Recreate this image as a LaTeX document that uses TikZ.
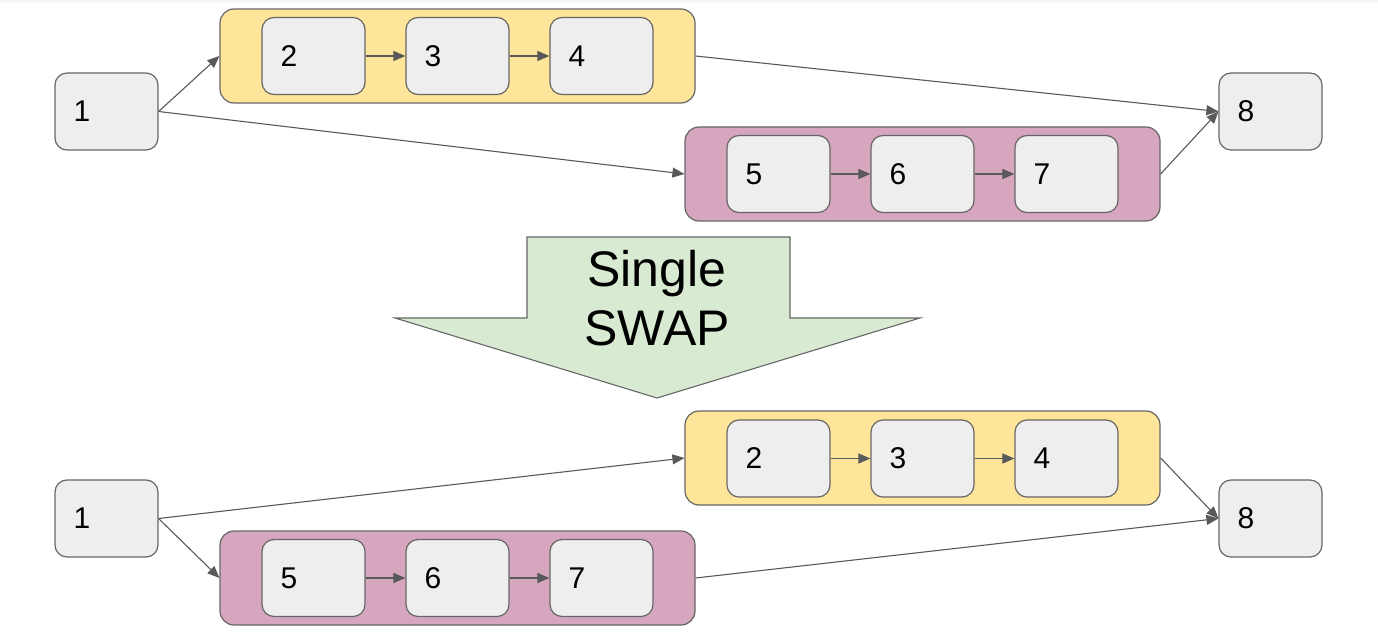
\documentclass[tikz,border=0pt]{standalone}
\usepackage{fontspec}
\setmainfont{Liberation Sans}
\usetikzlibrary{arrows.meta}
\definecolor{boxgray}{HTML}{EEEEEE}
\definecolor{edgegray}{HTML}{666666}
\definecolor{linegray}{HTML}{595959}
\definecolor{grpyellow}{HTML}{FFE599}
\definecolor{grppink}{HTML}{D5A6BD}
\definecolor{swapgreen}{HTML}{D9EAD3}
\begin{document}
\begin{tikzpicture}[x=1pt, y=-1pt, every node/.style={font=\fontsize{30}{36}\selectfont}]
  \tikzstyle{task}=[draw=edgegray,fill=boxgray,line width=1.2pt,rounded corners=12pt,minimum width=103pt,minimum height=77pt,inner xsep=18.5pt,text width=66pt,align=left]
  \tikzstyle{grp}=[draw=edgegray,line width=1.2pt,rounded corners=14pt,minimum width=475pt,minimum height=94pt]
  \tikzstyle{link}=[-{Triangle[length=12pt,width=10pt]},draw=linegray,line width=1.1pt]
  \useasboundingbox (0,0) rectangle (1378,636);
  \fill[gray!6] (0,0) rectangle (1378,3);
  % before the swap
  \node[task] (a1) at (106.5,111.5) {1};
  \node[grp,fill=grpyellow] (ga) at (457.5,56) {};
  \node[task] (a2) at (313.5,56) {2};
  \node[task] (a3) at (457.5,56) {3};
  \node[task] (a4) at (601.5,56) {4};
  \node[grp,fill=grppink] (gb) at (922.5,174) {};
  \node[task] (a5) at (778.5,174) {5};
  \node[task] (a6) at (922.5,174) {6};
  \node[task] (a7) at (1066.5,174) {7};
  \node[task] (a8) at (1270.5,111.5) {8};
  \draw[link] (a2) -- (a3); \draw[link] (a3) -- (a4);
  \draw[link] (a5) -- (a6); \draw[link] (a6) -- (a7);
  \draw[link] (a1.east) -- (ga.west); \draw[link] (a1.east) -- (gb.west);
  \draw[link] (ga.east) -- (a8.west); \draw[link] (gb.east) -- (a8.west);
  % the swap
  \draw[draw=edgegray,fill=swapgreen,line width=1.1pt] (527,237) -- (790,237) -- (790,318) -- (920,318)
    -- (657,398) -- (395,318) -- (527,318) -- cycle;
  \node[font=\fontsize{50}{58.3}\selectfont,align=center] (swap) at (657,298) {Single\\SWAP};
  % after the swap
  \node[task] (b1) at (106.5,518.5) {1};
  \node[grp,fill=grpyellow] (gc) at (922.5,458) {};
  \node[task] (b2) at (778.5,458.5) {2};
  \node[task] (b3) at (922.5,458.5) {3};
  \node[task] (b4) at (1066.5,458.5) {4};
  \node[grp,fill=grppink] (gd) at (457.5,578) {};
  \node[task] (b5) at (313.5,578) {5};
  \node[task] (b6) at (457.5,578) {6};
  \node[task] (b7) at (601.5,578) {7};
  \node[task] (b8) at (1270.5,518.5) {8};
  \draw[link] (b2) -- (b3); \draw[link] (b3) -- (b4);
  \draw[link] (b5) -- (b6); \draw[link] (b6) -- (b7);
  \draw[link] (b1.east) -- (gc.west); \draw[link] (b1.east) -- (gd.west);
  \draw[link] (gc.east) -- (b8.west); \draw[link] (gd.east) -- (b8.west);
\end{tikzpicture}
\end{document}
